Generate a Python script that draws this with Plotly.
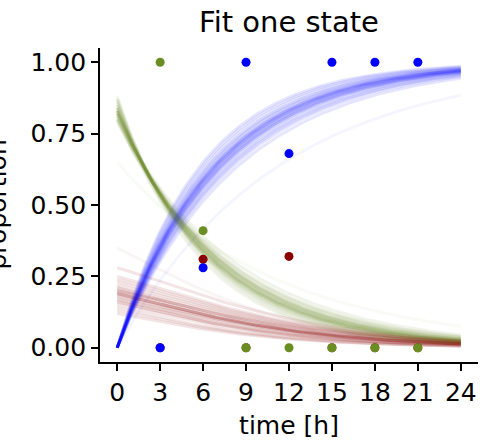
import numpy as np
import plotly.graph_objects as go

# ---- observed proportions ----
time_obs = [3, 6, 9, 12, 15, 18, 21]
blue_obs = [0.0, 0.28, 1.0, 0.68, 1.0, 1.0, 1.0]
green_obs = [1.0, 0.41, 0.0, 0.0, 0.0, 0.0, 0.0]
red_obs = [0.0, 0.31, 0.0, 0.32, 0.0, 0.0, 0.0]

# ---- posterior fit samples (parameters) ----
rate = [0.145, 0.138, 0.152, 0.130, 0.160, 0.142, 0.148, 0.125, 0.170, 0.136,
        0.155, 0.140, 0.150, 0.133, 0.165, 0.146, 0.128, 0.158, 0.143, 0.150,
        0.120, 0.175, 0.139, 0.147, 0.090]
green0 = [0.83, 0.82, 0.84, 0.80, 0.86, 0.83, 0.81, 0.79, 0.88, 0.82,
          0.85, 0.83, 0.84, 0.80, 0.87, 0.83, 0.81, 0.85, 0.82, 0.84,
          0.80, 0.87, 0.82, 0.83, 0.65]
red0 = [0.19, 0.20, 0.17, 0.22, 0.15, 0.19, 0.21, 0.25, 0.12, 0.20,
        0.16, 0.18, 0.17, 0.23, 0.13, 0.19, 0.24, 0.16, 0.20, 0.18,
        0.28, 0.14, 0.21, 0.19, 0.35]
red_rate = [0.16, 0.15, 0.17, 0.15, 0.17, 0.16, 0.16, 0.15, 0.18, 0.15,
            0.17, 0.16, 0.16, 0.15, 0.18, 0.16, 0.15, 0.17, 0.16, 0.16,
            0.15, 0.18, 0.15, 0.16, 0.17]
sample_alpha = [0.1] * 24 + [0.04]
RED_SHAPE = 0.1

x_ticks = [0, 3, 6, 9, 12, 15, 18, 21, 24]
y_ticks = [0.0, 0.25, 0.5, 0.75, 1.0]

BLUE = (0, 0, 255)
GREEN = (107, 142, 35)
RED = (139, 0, 0)
FONT = "DejaVu Sans"

t = np.linspace(0, 24, 121)


def rgba(c, a):
    return f"rgba({c[0]},{c[1]},{c[2]},{a})"


fig = go.Figure()
for k, g0, r0, kr, a in zip(rate, green0, red0, red_rate, sample_alpha):
    fig.add_trace(go.Scatter(x=t, y=r0 * (1 + RED_SHAPE * t) * np.exp(-kr * t), mode="lines",
                             line=dict(color=rgba(RED, a), width=3), hoverinfo="skip",
                             showlegend=False))
    fig.add_trace(go.Scatter(x=t, y=g0 * np.exp(-k * t), mode="lines",
                             line=dict(color=rgba(GREEN, a), width=3), hoverinfo="skip",
                             showlegend=False))
    fig.add_trace(go.Scatter(x=t, y=1 - np.exp(-k * t), mode="lines",
                             line=dict(color=rgba(BLUE, a), width=3), hoverinfo="skip",
                             showlegend=False))

for ys, c in ((red_obs, RED), (green_obs, GREEN), (blue_obs, BLUE)):
    fig.add_trace(go.Scatter(x=time_obs, y=ys, mode="markers",
                             marker=dict(color=rgba(c, 1), size=9, line=dict(width=0)),
                             showlegend=False))

axis_common = dict(showgrid=False, zeroline=False, showline=True, linecolor="black",
                   linewidth=1.8, ticks="outside", ticklen=7, tickwidth=1.6,
                   tickcolor="black", automargin=False,
                   tickfont=dict(family=FONT, size=25, color="black"))

fig.update_layout(
    width=484, height=446,
    margin=dict(l=100, r=6, t=48, b=84, autoexpand=False),
    plot_bgcolor="white", paper_bgcolor="white",
    xaxis=dict(range=[-1.2, 25.2], tickvals=x_ticks, ticktext=[str(v) for v in x_ticks],
               title=dict(text="time [h]", font=dict(family=FONT, size=25, color="black"),
                          standoff=11),
               **axis_common),
    yaxis=dict(range=[-0.05, 1.05], tickvals=y_ticks, ticktext=[f"{v:.2f}" for v in y_ticks],
               **axis_common),
    title=dict(text="Fit one state", x=0.5, xref="paper", xanchor="center",
               y=1 - 22 / 446, yref="container", yanchor="middle",
               font=dict(family=FONT, size=29, color="black")),
    annotations=[dict(text="proportion", textangle=-90, xref="paper", yref="paper",
                      x=-87 / 378, y=0.5, xanchor="right", yanchor="middle", showarrow=False,
                      font=dict(family=FONT, size=25, color="black"))],
)

fig.write_html("out.html", config={"displayModeBar": False},
               post_script="document.body.style.margin='0';document.body.style.overflow='hidden';")
